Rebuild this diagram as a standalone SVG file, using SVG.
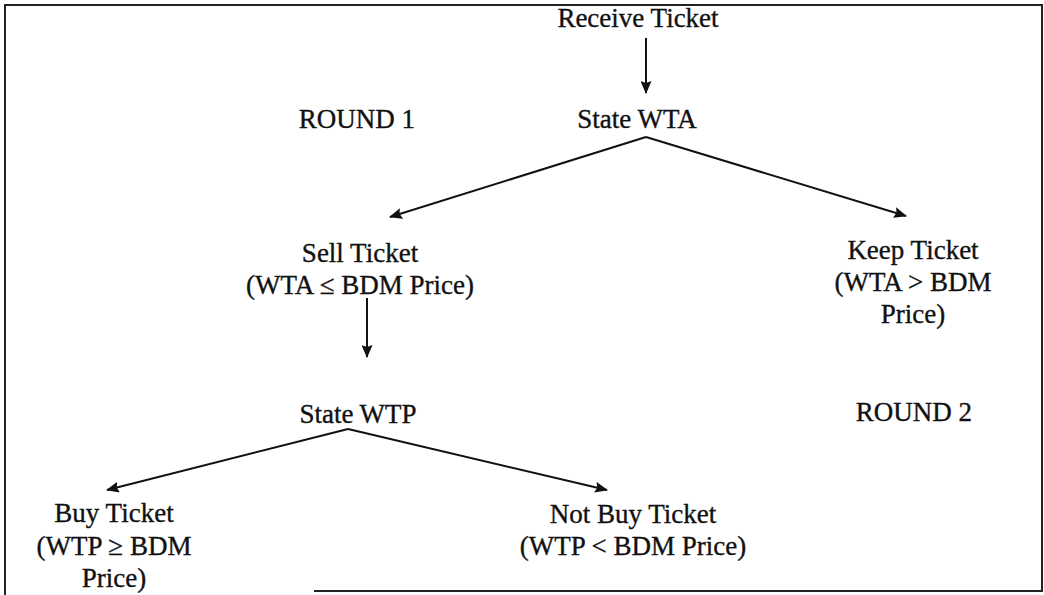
<svg xmlns="http://www.w3.org/2000/svg" width="1044" height="595" viewBox="0 0 1044 595">
<style>
  text { font-family: "Liberation Serif", "Times New Roman", serif; font-size: 27px; fill: #111; stroke: #111; stroke-width: 0.35; text-anchor: middle; }
  .edge { stroke: #111; stroke-width: 2; fill: none; marker-end: url(#arrow); }
  .frame { stroke: #222; stroke-width: 2; fill: none; }
</style>
<defs>
  <marker id="arrow" markerUnits="userSpaceOnUse" markerWidth="13" markerHeight="11" refX="12" refY="5.5" orient="auto">
    <path d="M0,0 L13,5.5 L0,11 L2,5.5 z" fill="#111"/>
  </marker>
</defs>
<rect width="1044" height="595" fill="#fff"/>
<g id="frame">
  <path class="frame" d="M5,595 L5,5 L1042,5 L1042,591 L314,591"/>
</g>
<g id="connectors">
  <line class="edge" x1="646" y1="38" x2="646" y2="93"/>
  <polyline class="edge" points="646,137 390,217"/>
  <polyline class="edge" points="646,137 906,216"/>
  <line class="edge" x1="367" y1="298" x2="367" y2="357"/>
  <polyline class="edge" points="348,429 107,490"/>
  <polyline class="edge" points="348,429 607,490"/>
</g>
<g id="receive-ticket"><text x="638" y="27">Receive Ticket</text></g>
<g id="round-1"><text x="357" y="128">ROUND 1</text></g>
<g id="state-wta"><text x="637" y="128">State WTA</text></g>
<g id="sell-ticket">
  <text x="360" y="262">Sell Ticket</text>
  <text x="360" y="294">(WTA ≤ BDM Price)</text>
</g>
<g id="keep-ticket">
  <text x="913" y="259">Keep Ticket</text>
  <text x="913" y="291">(WTA &gt; BDM</text>
  <text x="913" y="323">Price)</text>
</g>
<g id="state-wtp"><text x="358" y="423">State WTP</text></g>
<g id="round-2"><text x="914" y="421">ROUND 2</text></g>
<g id="buy-ticket">
  <text x="114" y="522">Buy Ticket</text>
  <text x="114" y="555">(WTP ≥ BDM</text>
  <text x="114" y="587">Price)</text>
</g>
<g id="not-buy-ticket">
  <text x="633" y="523">Not Buy Ticket</text>
  <text x="633" y="555">(WTP &lt; BDM Price)</text>
</g>
</svg>
